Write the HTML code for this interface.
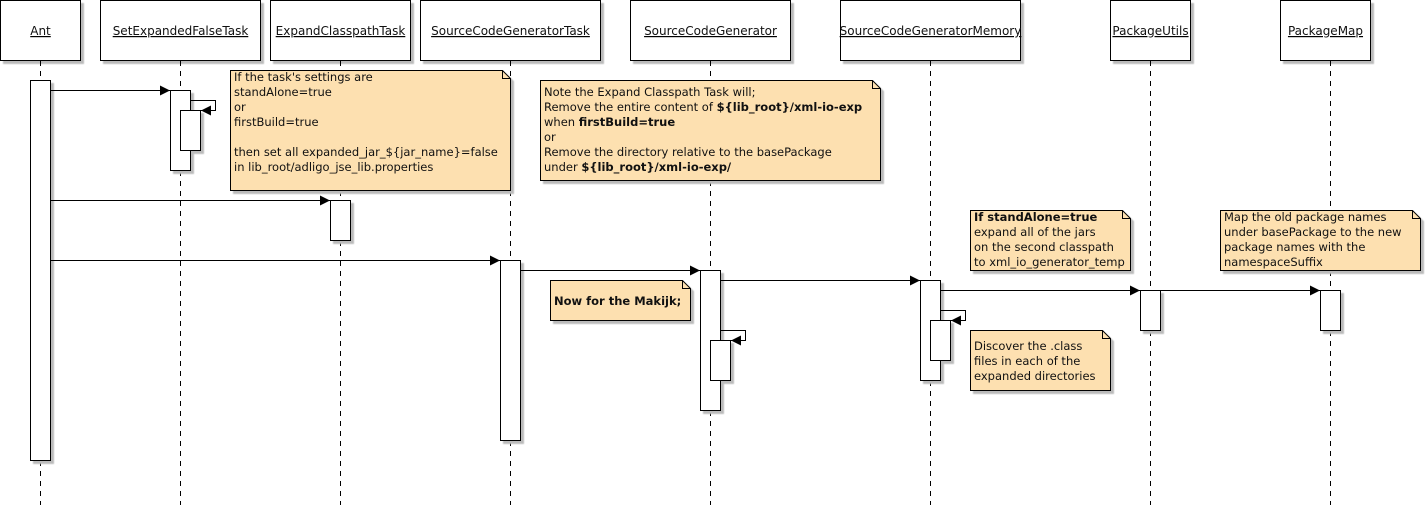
<!DOCTYPE html>
<html><head><style>body{margin:0;background:#fff}svg{display:block}text{font-family:"DejaVu Sans","Liberation Sans",sans-serif;font-size:11.5px;fill:#111}.h text{font-size:12px}</style></head><body>
<svg width="1425" height="505" xmlns="http://www.w3.org/2000/svg">
<defs><filter id="s" x="-5%" y="-5%" width="115%" height="130%"><feDropShadow dx="3" dy="3" stdDeviation="0.5" flood-color="#bbb" flood-opacity="1"/></filter>
<marker id="a" markerWidth="10" markerHeight="10" refX="10" refY="5" orient="auto" markerUnits="userSpaceOnUse"><path d="M0,0L10,5L0,10z" fill="#000"/></marker></defs>
<g fill="#fff" stroke="#000" filter="url(#s)">
<rect x="0.5" y="0.5" width="80" height="60"/><rect x="100.5" y="0.5" width="160" height="60"/><rect x="270.5" y="0.5" width="140" height="60"/><rect x="420.5" y="0.5" width="180" height="60"/><rect x="630.5" y="0.5" width="160" height="60"/><rect x="840.5" y="0.5" width="180" height="60"/><rect x="1110.5" y="0.5" width="80" height="60"/><rect x="1280.5" y="0.5" width="90" height="60"/>
</g>
<g class="h" text-anchor="middle" text-decoration="underline">
<text x="40.5" y="35">Ant</text><text x="180.5" y="35">SetExpandedFalseTask</text><text x="340.5" y="35">ExpandClasspathTask</text><text x="510.5" y="35">SourceCodeGeneratorTask</text><text x="710.5" y="35">SourceCodeGenerator</text><text x="930.5" y="35">SourceCodeGeneratorMemory</text><text x="1150.5" y="35">PackageUtils</text><text x="1325.5" y="35">PackageMap</text>
</g>
<g stroke="#000" stroke-dasharray="5,5">
<line x1="40.5" y1="61" x2="40.5" y2="505"/><line x1="180.5" y1="61" x2="180.5" y2="505"/><line x1="340.5" y1="61" x2="340.5" y2="505"/><line x1="510.5" y1="61" x2="510.5" y2="505"/><line x1="710.5" y1="61" x2="710.5" y2="505"/><line x1="930.5" y1="61" x2="930.5" y2="505"/><line x1="1150.5" y1="61" x2="1150.5" y2="505"/><line x1="1330.5" y1="61" x2="1330.5" y2="505"/>
</g>
<g fill="#fff" stroke="#000" filter="url(#s)">
<rect x="30.5" y="80.5" width="20" height="380"/>
<rect x="170.5" y="90.5" width="20" height="80"/><rect x="180.5" y="110.5" width="20" height="40"/>
<rect x="330.5" y="200.5" width="20" height="40"/>
<rect x="500.5" y="260.5" width="20" height="180"/>
<rect x="700.5" y="270.5" width="20" height="140"/><rect x="710.5" y="340.5" width="20" height="40"/>
<rect x="920.5" y="280.5" width="20" height="100"/><rect x="930.5" y="320.5" width="20" height="40"/>
<rect x="1140.5" y="290.5" width="20" height="40"/><rect x="1320.5" y="290.5" width="20" height="40"/>
</g>
<g stroke="#000" fill="none" marker-end="url(#a)">
<line x1="51" y1="90.5" x2="170" y2="90.5"/><line x1="51" y1="200.5" x2="330" y2="200.5"/><line x1="51" y1="260.5" x2="500" y2="260.5"/><line x1="521" y1="270.5" x2="700" y2="270.5"/><line x1="721" y1="280.5" x2="920" y2="280.5"/><line x1="941" y1="290.5" x2="1140" y2="290.5"/><line x1="1161" y1="290.5" x2="1320" y2="290.5"/>
<path d="M191,100.5H215.5V110.5H201"/><path d="M721,330.5H745.5V340.5H731"/><path d="M941,310.5H965.5V320.5H951"/>
</g>
<g fill="#fde0b0" stroke="#000" filter="url(#s)">
<path d="M230.5,70.5H502.5L510.5,78.5V190.5H230.5Z"/><path d="M540.5,80.5H872.5L880.5,88.5V180.5H540.5Z"/><path d="M550.5,280.5H682.5L690.5,288.5V320.5H550.5Z"/><path d="M970.5,210.5H1122.5L1130.5,218.5V270.5H970.5Z"/><path d="M970.5,330.5H1102.5L1110.5,338.5V390.5H970.5Z"/><path d="M1220.5,210.5H1412.5L1420.5,218.5V270.5H1220.5Z"/>
</g>
<g fill="none" stroke="#000"><path d="M502.5,70.5V78.5H510.5M872.5,80.5V88.5H880.5M682.5,280.5V288.5H690.5M1122.5,210.5V218.5H1130.5M1102.5,330.5V338.5H1110.5M1412.5,210.5V218.5H1420.5"/></g>
<text x="234" y="81">If the task's settings are</text><text x="234" y="96">standAlone=true</text><text x="234" y="111">or</text><text x="234" y="126">firstBuild=true</text><text x="234" y="156">then set all expanded_jar_${jar_name}=false</text><text x="234" y="171">in lib_root/adligo_jse_lib.properties</text>
<text x="544" y="96">Note the Expand Classpath Task will;</text><text x="544" y="111">Remove the entire content of <tspan font-weight="bold">${lib_root}/xml-io-exp</tspan></text><text x="544" y="126">when <tspan font-weight="bold">firstBuild=true</tspan></text><text x="544" y="141">or</text><text x="544" y="156">Remove the directory relative to the basePackage</text><text x="544" y="171">under <tspan font-weight="bold">${lib_root}/xml-io-exp/</tspan></text>
<text x="554" y="305" font-weight="bold">Now for the Makijk;</text>
<text x="974" y="221"><tspan font-weight="bold"> If standAlone=true</tspan></text><text x="974" y="236">expand all of the jars</text><text x="974" y="251">on the second classpath</text><text x="974" y="266">to xml_io_generator_temp</text>
<text x="974" y="350">Discover the .class</text><text x="974" y="365">files in each of the</text><text x="974" y="380">expanded directories</text>
<text x="1224" y="221">Map the old package names</text><text x="1224" y="236">under basePackage to the new</text><text x="1224" y="251">package names with the</text><text x="1224" y="266">namespaceSuffix</text>
</svg>
</body></html>
